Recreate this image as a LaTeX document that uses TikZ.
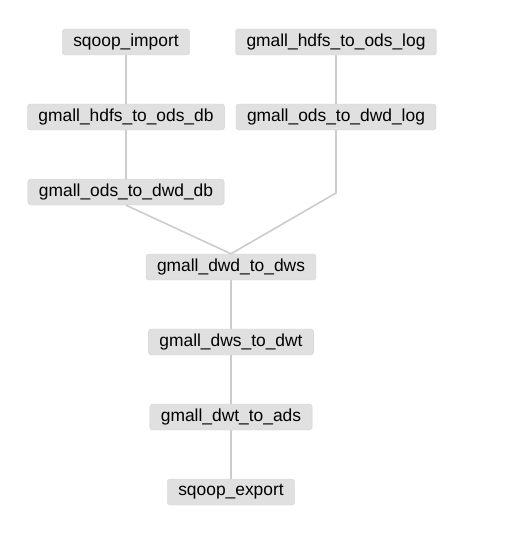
\documentclass[tikz,border=0pt]{standalone}
\usepackage{fontspec}
\setmainfont{Liberation Sans}
\definecolor{jobfill}{RGB}{224,224,224}
\definecolor{jobedge}{RGB}{210,210,210}
\definecolor{linkgray}{RGB}{204,204,204}
\begin{document}
\begin{tikzpicture}[
    x=1pt, y=-1pt,
    every node/.style={fill=jobfill, draw=jobedge, rounded corners=3pt, minimum height=26pt, inner xsep=11pt, inner ysep=0pt, font=\fontsize{17.4}{20}\selectfont},
    line style/.style={linkgray, line width=1.6pt}
]
    \useasboundingbox (0,0) rectangle (506,535);

    % Left branch
    \node (import) at (126, 42) {sqoop\_import};
    \node (hdfs_db) at (126, 117) {gmall\_hdfs\_to\_ods\_db};
    \node (ods_db) at (126, 192) {gmall\_ods\_to\_dwd\_db};

    % Right branch
    \node (hdfs_log) at (336, 42) {gmall\_hdfs\_to\_ods\_log};
    \node (ods_log) at (336, 117) {gmall\_ods\_to\_dwd\_log};
    \coordinate (bend_log) at (336, 193);

    % Main chain
    \node (dwd) at (231, 267) {gmall\_dwd\_to\_dws};
    \node (dws) at (231, 342) {gmall\_dws\_to\_dwt};
    \node (dwt) at (231, 417) {gmall\_dwt\_to\_ads};
    \node (export) at (231, 492) {sqoop\_export};

    % Draw links
    \foreach \a/\b in {import/hdfs_db, hdfs_db/ods_db, hdfs_log/ods_log, dwd/dws, dws/dwt, dwt/export} {
        \draw[line style] (\a) -- (\b);
    }
    \draw[line style] (ods_db.south) -- (dwd.north);
    \draw[line style] (ods_log) -- (bend_log) -- (dwd.north);

\end{tikzpicture}
\end{document}
